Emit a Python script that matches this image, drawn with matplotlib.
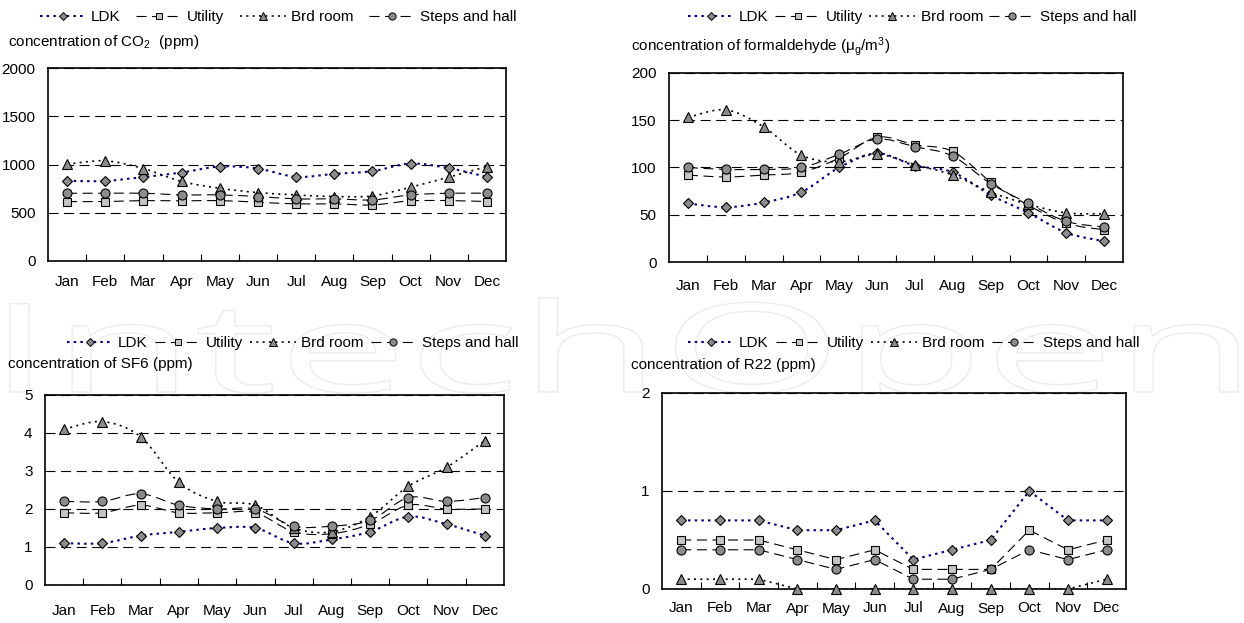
import matplotlib
matplotlib.use("Agg")
import matplotlib.pyplot as plt
from matplotlib.path import Path
from matplotlib.patches import PathPatch
from matplotlib.lines import Line2D
from matplotlib.textpath import TextPath
from matplotlib.font_manager import FontProperties, fontManager
from matplotlib.transforms import Affine2D

months = ["Jan", "Feb", "Mar", "Apr", "May", "Jun",
          "Jul", "Aug", "Sep", "Oct", "Nov", "Dec"]
rooms = ["LDK", "Utility", "Brd room", "Steps and hall"]

# monthly means per room
co2_ldk = [830, 830, 870, 917, 979, 958, 872, 903, 931, 1010, 962, 872]
co2_utility = [616, 616, 626, 623, 626, 609, 592, 592, 581, 623, 626, 616]
co2_brd = [1003, 1038, 958, 824, 754, 709, 685, 668, 675, 765, 869, 979]
co2_steps = [702, 702, 702, 685, 685, 668, 644, 644, 633, 685, 702, 702]

hcho_ldk = [62, 58, 63, 74, 100, 115, 102, 95, 71, 52, 31, 22]
hcho_utility = [92, 90, 92, 95, 110, 132, 124, 117, 85, 60, 41, 34]
hcho_brd = [153, 161, 143, 113, 106, 114, 103, 92, 74, 61, 52, 51]
hcho_steps = [100, 98, 98, 100, 114, 130, 122, 112, 83, 62, 43, 37]

sf6_ldk = [1.1, 1.1, 1.3, 1.4, 1.5, 1.5, 1.1, 1.2, 1.4, 1.8, 1.6, 1.3]
sf6_utility = [1.9, 1.9, 2.1, 1.9, 1.9, 1.9, 1.4, 1.35, 1.6, 2.1, 2.0, 2.0]
sf6_brd = [4.1, 4.3, 3.9, 2.7, 2.2, 2.1, 1.5, 1.4, 1.8, 2.6, 3.1, 3.8]
sf6_steps = [2.2, 2.2, 2.4, 2.1, 2.0, 2.0, 1.55, 1.55, 1.7, 2.3, 2.2, 2.3]

r22_ldk = [0.7, 0.7, 0.7, 0.6, 0.6, 0.7, 0.3, 0.4, 0.5, 1.0, 0.7, 0.7]
r22_utility = [0.5, 0.5, 0.5, 0.4, 0.3, 0.4, 0.2, 0.2, 0.2, 0.6, 0.4, 0.5]
r22_brd = [0.1, 0.1, 0.1, 0.0, 0.0, 0.0, 0.0, 0.0, 0.0, 0.0, 0.0, 0.1]
r22_steps = [0.4, 0.4, 0.4, 0.3, 0.2, 0.3, 0.1, 0.1, 0.2, 0.4, 0.3, 0.4]

names = {f.name for f in fontManager.ttflist}
base = "Liberation Sans Narrow" if "Liberation Sans Narrow" in names else "Liberation Sans"
plt.rcParams["font.family"] = [base, "DejaVu Sans"]
plt.rcParams["mathtext.fontset"] = "custom"
plt.rcParams["mathtext.rm"] = base
plt.rcParams["mathtext.it"] = base
FS = 11

W, H = 1244, 623
fig = plt.figure(figsize=(W / 100, H / 100), dpi=100)
fig.patch.set_facecolor("white")

styles = [
    dict(color="#000080", lw=1.5, ls=(0, (1.2, 2.0)), marker="D", ms=5.5, mfc="#8c8c8c"),
    dict(color="black", lw=0.8, ls=(0, (9, 5)), marker="s", ms=6, mfc="#c4c4c4"),
    dict(color="black", lw=1.2, ls=(0, (1.2, 2.6)), marker="^", ms=7, mfc="#8c8c8c"),
    dict(color="black", lw=0.8, ls=(0, (9, 5)), marker="o", ms=6.5, mfc="#8c8c8c"),
]


def smooth_path(xs, ys):
    # cubic bezier through every point (Excel-style smoothed line)
    verts = [(xs[0], ys[0])]
    codes = [Path.MOVETO]
    n = len(xs)
    for i in range(n - 1):
        x0, y0 = (xs[i - 1], ys[i - 1]) if i > 0 else (xs[i], ys[i])
        x3, y3 = (xs[i + 2], ys[i + 2]) if i + 2 < n else (xs[i + 1], ys[i + 1])
        c1 = (xs[i] + (xs[i + 1] - x0) / 6, ys[i] + (ys[i + 1] - y0) / 6)
        c2 = (xs[i + 1] - (x3 - xs[i]) / 6, ys[i + 1] - (y3 - ys[i]) / 6)
        verts += [c1, c2, (xs[i + 1], ys[i + 1])]
        codes += [Path.CURVE4] * 3
    return Path(verts, codes)


def px_axes(left, top, right, bottom):
    return fig.add_axes([left / W, 1 - bottom / H, (right - left) / W, (bottom - top) / H])


def panel(box, series, ymax, ystep, smooth=True, xpad=12):
    ax = px_axes(*box)
    x = list(range(len(months)))
    for vals, st in zip(series, styles):
        if smooth:
            ax.add_patch(PathPatch(smooth_path(x, vals), fill=False, edgecolor=st["color"],
                                   lw=st["lw"], linestyle=st["ls"], zorder=2))
        else:
            ax.plot(x, vals, color=st["color"], lw=st["lw"], linestyle=st["ls"], zorder=2)
        ax.plot(x, vals, linestyle="none", marker=st["marker"], ms=st["ms"],
                mfc=st["mfc"], mec="black", mew=0.8, zorder=3, clip_on=False)
    ax.set_xlim(-0.5, len(months) - 0.5)
    ax.set_ylim(0, ymax)
    ticks = [i * ystep for i in range(int(round(ymax / ystep)) + 1)]
    ax.set_yticks(ticks)
    ax.set_yticklabels([f"{t:g}" for t in ticks])
    ax.set_xticks(x)
    ax.set_xticklabels(months)
    ax.set_xticks([i + 0.5 for i in range(len(months) - 1)], minor=True)
    ax.tick_params(axis="x", which="major", length=0, pad=xpad, labelsize=FS)
    ax.tick_params(axis="x", which="minor", direction="in", length=5, width=0.8)
    ax.tick_params(axis="y", length=0, pad=9, labelsize=FS)
    ax.yaxis.grid(True, color="black", lw=0.8, linestyle=(0, (9, 5)))
    ax.set_axisbelow(True)
    for sp in ax.spines.values():
        sp.set_linewidth(1.2)
    return ax


def room_legend(x, y, colspace):
    handles = [Line2D([0], [0], color=st["color"], lw=st["lw"], linestyle=st["ls"],
                      marker=st["marker"], ms=st["ms"] * 0.8, mfc=st["mfc"],
                      mec="black", mew=0.7) for st in styles]
    fig.legend(handles, rooms, loc="center left", bbox_to_anchor=(x / W, 1 - y / H),
               ncol=4, frameon=False, fontsize=FS, handlelength=3.0, handletextpad=0.35,
               columnspacing=colspace, borderpad=0, borderaxespad=0, numpoints=1)


# faint publisher mark behind the lower panels
tp = TextPath((0, 0), "IntechOpen", size=100, prop=FontProperties(family="Open Sans"))
ext = tp.get_extents()
sx = (1238 - 10) / (ext.x1 - ext.x0)
sy = (392 - 298) / ext.y1
wm = Affine2D().translate(-ext.x0, 0).scale(sx, sy).translate(10, H - 392).scale(1 / W, 1 / H)
fig.add_artist(PathPatch(tp, transform=wm + fig.transFigure, facecolor="none",
                         edgecolor="#ececec", lw=1.0, zorder=-1))

panel((48, 68, 506, 261), [co2_ldk, co2_utility, co2_brd, co2_steps], 2000, 500, xpad=10)
panel((669, 73, 1123, 262), [hcho_ldk, hcho_utility, hcho_brd, hcho_steps], 200, 50, xpad=12)
panel((45, 395, 504, 585), [sf6_ldk, sf6_utility, sf6_brd, sf6_steps], 5, 1, xpad=14)
panel((662, 393, 1126, 589), [r22_ldk, r22_utility, r22_brd, r22_steps], 2, 1,
      smooth=False, xpad=9)

room_legend(40, 17, 1.0)
room_legend(688, 17, 0.4)
room_legend(67, 343, 0.45)
room_legend(688, 343, 0.45)

fig.text(8 / W, 1 - 42 / H, "concentration of CO$_2$  (ppm)", fontsize=FS, va="center")
fig.text(631 / W, 1 - 47 / H, r"concentration of formaldehyde (μ$_{\mathrm{g}}$/m$^{3}$)",
         fontsize=FS, va="center")
fig.text(8 / W, 1 - 364 / H, "concentration of SF6 (ppm)", fontsize=FS, va="center")
fig.text(631 / W, 1 - 365 / H, "concentration of R22 (ppm)", fontsize=FS, va="center")

fig.savefig("out.png", dpi=100, facecolor="white")
